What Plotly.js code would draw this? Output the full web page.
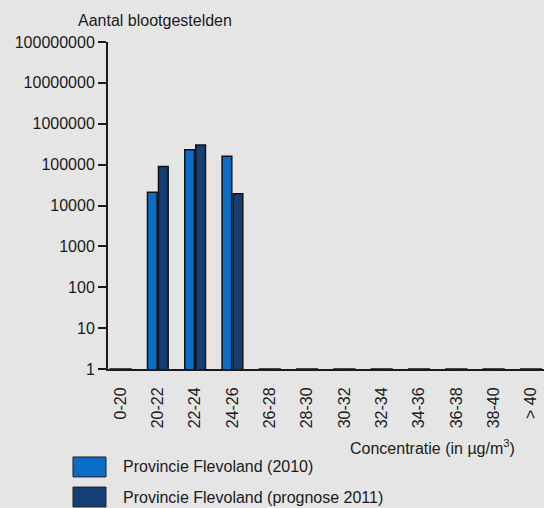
<!DOCTYPE html>
<html>
<head>
<meta charset="utf-8">
<script src="https://cdn.plot.ly/plotly-3.0.1.min.js"></script>
<style>html,body{margin:0;padding:0;background:#e5e5e5;}#chart{width:544px;height:508px;}</style>
</head>
<body>
<div id="chart"></div>
<script>
const categories = ["0-20","20-22","22-24","24-26","26-28","28-30","30-32","32-34","34-36","36-38","38-40","> 40"];
const values2010 = [1, 21000, 230000, 160000, 1, 1, 1, 1, 1, 1, 1, 1];
const values2011 = [1, 90000, 300000, 19500, 1, 1, 1, 1, 1, 1, 1, 1];
const seriesNames = ["Provincie Flevoland (2010)", "Provincie Flevoland (prognose 2011)"];
const seriesColors = ["#0a6ec8", "#153f73"];
const yTickVals = [1, 10, 100, 1000, 10000, 100000, 1000000, 10000000, 100000000];
const yTickText = ["1","10","100","1000","10000","100000","1000000","10000000","100000000"];
const yTitle = "Aantal blootgestelden";
const xTitle = "Concentratie (in µg/m<sup>3</sup>)";

const font = {family: "Liberation Sans, Arial, sans-serif", size: 16, color: "#1a1a1a"};
const traces = [values2010, values2011].map((vals, i) => ({
  type: "bar",
  x: categories,
  y: vals,
  name: seriesNames[i],
  marker: {color: seriesColors[i], line: {color: "#111111", width: 1.5}},
  hoverinfo: "none"
}));

const shapes = [];
const annotations = [
  {text: yTitle, xref: "paper", yref: "paper", x: 0.108, y: 1.067, xanchor: "center", yanchor: "middle", showarrow: false, font: font},
  {text: xTitle, xref: "paper", yref: "paper", x: 0.745, y: -0.2385, xanchor: "center", yanchor: "middle", showarrow: false, font: font}
];
const legY = [[-0.269, -0.330], [-0.361, -0.422]];
seriesNames.forEach((n, i) => {
  shapes.push({type: "rect", xref: "paper", yref: "paper", x0: -0.0803, x1: -0.0046, y0: legY[i][1], y1: legY[i][0],
    fillcolor: seriesColors[i], line: {color: "#222222", width: 1}});
  annotations.push({text: n, xref: "paper", yref: "paper", x: (121 - 108) / 436, y: (legY[i][0] + legY[i][1]) / 2,
    xanchor: "left", yanchor: "middle", showarrow: false, font: font});
});

const layout = {
  width: 544, height: 508,
  margin: {l: 108, r: 0, t: 42, b: 139, pad: 0},
  paper_bgcolor: "#e5e5e5", plot_bgcolor: "#e5e5e5",
  font: font,
  showlegend: false,
  barmode: "group", bargap: 0.41, bargroupgap: 0.12,
  xaxis: {
    type: "category", range: [-0.335, 11.35],
    showline: true, linecolor: "#1a1a1a", linewidth: 2,
    ticks: "", tickangle: -90, ticklabelstandoff: 10,
    showgrid: false, zeroline: false, tickfont: font, fixedrange: true
  },
  yaxis: {
    type: "log", range: [0, 8],
    tickvals: yTickVals, ticktext: yTickText,
    showline: true, linecolor: "#1a1a1a", linewidth: 2,
    ticks: "outside", ticklen: 8, tickwidth: 2, tickcolor: "#1a1a1a",
    showgrid: false, zeroline: false, tickfont: font, fixedrange: true
  },
  shapes: shapes,
  annotations: annotations
};
Plotly.newPlot("chart", traces, layout, {displayModeBar: false, staticPlot: true});
</script>
</body>
</html>
